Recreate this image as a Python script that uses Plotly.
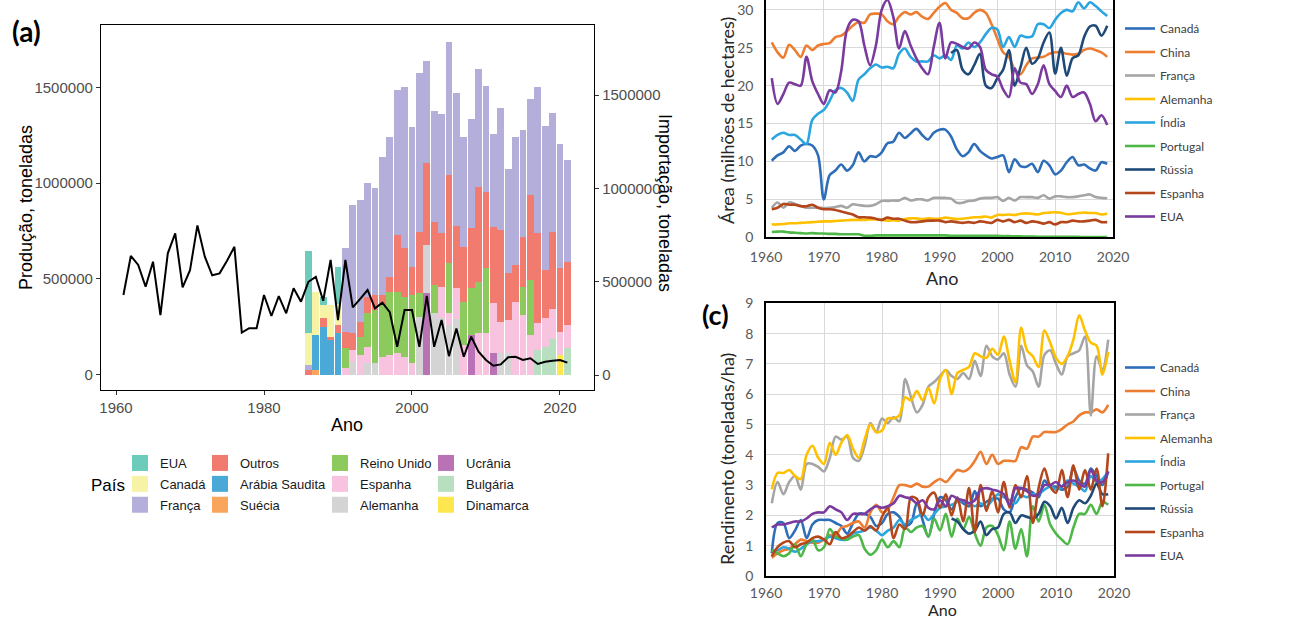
import plotly.graph_objects as go

W, H = 1301, 621

# ---------------- Panel (a) data ----------------
bar_years = list(range(1986, 2022))
bar_countries = ["EUA", "Canadá", "França", "Outros", "Arábia Saudita", "Suécia",
                 "Reino Unido", "Espanha", "Alemanha", "Ucrânia", "Bulgária", "Dinamarca"]
bar_colors = ["#6DCBBB", "#F6F3A6", "#B4AFDA", "#F27B70", "#4BA9D8", "#F9A65C",
              "#8DCA5E", "#F7C3DE", "#D4D4D4", "#BA72B7", "#B8DFC0", "#FDE64E"]

imp_eua = [438000, 0, 45000, 0, 200000] + [0] * 31
imp_canada = [170000, 232000, 71000, 170000, 112000] + [0] * 31
imp_franca = [27000, 0, 0, 0, 0, 447000, 688000, 652000, 607000, 571000, 741000, 750000,
              777000, 862000, 751000, 852000, 550000, 595000, 639000, 715000, 711000,
              586000, 584000, 629000, 566000, 496000, 652000, 557000, 688000, 571000,
              513000, 782000, 772000, 639000, 666000, 545000]
imp_outros = [27000, 0, 45000, 18000, 45000, 89000, 89000, 81000, 90000, 81000, 54000,
              81000, 304000, 259000, 151000, 330000, 438000, 339000, 286000, 473000,
              334000, 294000, 322000, 509000, 411000, 411000, 491000, 250000, 196000,
              268000, 455000, 482000, 258000, 411000, 339000, 339000]
imp_arabia = [0, 187000, 259000, 187000, 223000] + [0] * 31
imp_suecia = [0, 27000, 0, 0, 0] + [0] * 31
imp_reino_unido = [0, 0, 0, 0, 0, 107000, 0, 98000, 178000, 285000, 277000, 339000,
                   330000, 322000, 366000, 125000, 0, 152000, 0, 268000, 0, 233000,
                   250000, 277000, 348000, 0, 0, 0, 0, 152000, 295000, 0, 0, 0, 0, 0]
imp_espanha = [0, 0, 0, 0, 0, 36000, 63000, 107000, 89000, 0, 98000, 107000, 116000,
               98000, 63000, 0, 0, 0, 169000, 60000, 164000, 160000, 0, 223000, 223000,
               268000, 170000, 179000, 393000, 321000, 214000, 143000, 152000, 160000,
               125000, 125000]
imp_alemanha = [0, 0, 0, 0, 0, 0, 71000, 0, 63000, 63000, 0, 0, 0, 0, 0, 313000, 258000,
                330000, 304000, 270000, 300000, 0, 0, 0, 0, 0, 116000, 116000, 0, 0, 0,
                0, 0, 0, 0, 0]
imp_ucrania = [0] * 16 + [438000, 0, 0, 0, 0, 0, 214000, 0, 0, 116000] + [0] * 10
imp_bulgaria = [0] * 31 + [134000, 152000, 195000, 0, 143000]
imp_dinamarca = [0] * 34 + [107000, 0]

imports = [imp_eua, imp_canada, imp_franca, imp_outros, imp_arabia, imp_suecia,
           imp_reino_unido, imp_espanha, imp_alemanha, imp_ucrania, imp_bulgaria,
           imp_dinamarca]

prod_years = list(range(1961, 2022))
production = [415000, 619000, 572000, 458000, 589000, 310000, 633000, 737000, 455000,
              545000, 779000, 615000, 518000, 528000, 594000, 667000, 218000, 241000,
              241000, 415000, 305000, 409000, 319000, 450000, 380000, 484000, 510000,
              385000, 598000, 284000, 598000, 350000, 395000, 441000, 345000, 375000,
              325000, 144000, 336000, 336000, 144000, 410000, 144000, 284000, 95000,
              240000, 92000, 197000, 118000, 75000, 45000, 52000, 89000, 92000, 75000,
              84000, 54000, 66000, 71000, 75000, 61000]

# ---------------- Panels (b) and (c) data ----------------
years = list(range(1961, 2020))
rus_years = list(range(1992, 2020))
series_names = ["Canadá", "China", "França", "Alemanha", "Índia", "Portugal",
                "Rússia", "Espanha", "EUA"]
series_colors = ["#2E6DB8", "#ED7D31", "#A5A5A5", "#FFC000", "#2AA5E0", "#4DB848",
                 "#1F4A78", "#B4461C", "#7A3A9E"]

area_canada = [10.1, 10.8, 11.2, 12.0, 11.4, 12.1, 12.3, 12.1, 10.8, 5.0,
               8.2, 8.8, 9.6, 8.8, 9.5, 11.2, 10.0, 10.7, 10.6, 11.2,
               12.4, 12.6, 13.8, 13.1, 13.7, 14.3, 13.5, 12.9, 13.8, 14.2,
               14.2, 13.3, 11.6, 10.7, 11.2, 12.3, 11.4, 10.8, 10.4, 10.6,
               10.8, 8.6, 10.3, 9.4, 9.3, 9.7, 8.6, 10.1, 9.5, 8.3,
               8.8, 9.9, 10.6, 9.5, 9.6, 9.1, 8.8, 9.9, 9.7]
area_china = [25.7, 24.4, 23.7, 25.4, 24.7, 23.8, 25.3, 24.7, 25.3, 25.5,
              25.6, 26.4, 26.6, 27.2, 27.9, 28.4, 28.3, 29.4, 29.5, 29.4,
              28.5, 28.1, 29.1, 29.7, 29.4, 29.7, 29.1, 28.8, 29.6, 30.4,
              30.9, 30.0, 29.6, 28.9, 28.9, 29.6, 30.0, 29.6, 28.1, 26.2,
              24.4, 23.8, 22.1, 21.5, 22.7, 23.6, 23.7, 23.8, 24.2, 24.4,
              24.4, 24.2, 24.1, 24.2, 24.7, 24.9, 24.7, 24.4, 23.8]
area_franca = [3.9, 4.6, 3.9, 4.6, 4.4, 4.15, 3.9, 3.9, 3.9, 3.85,
               3.9, 4.0, 4.15, 3.9, 4.35, 4.25, 4.15, 4.15, 4.35, 4.8,
               4.8, 4.85, 4.85, 5.2, 4.85, 5.0, 5.0, 4.85, 5.2, 5.2,
               5.2, 5.1, 4.55, 4.55, 4.8, 4.85, 5.1, 5.2, 5.2, 5.3,
               4.8, 5.2, 4.85, 5.3, 5.3, 5.3, 5.2, 5.55, 5.1, 5.4,
               5.4, 5.3, 5.3, 5.4, 5.55, 5.65, 5.3, 5.2, 5.15]
area_alemanha = [1.7, 1.7, 1.75, 1.85, 1.85, 1.9, 1.95, 2.0, 2.05, 2.1,
                 2.1, 2.15, 2.2, 2.25, 2.3, 2.3, 2.3, 2.35, 2.35, 2.3,
                 2.2, 2.25, 2.2, 2.4, 2.5, 2.5, 2.4, 2.5, 2.45, 2.45,
                 2.6, 2.5, 2.4, 2.45, 2.55, 2.65, 2.65, 2.75, 2.6, 2.95,
                 2.95, 3.0, 2.95, 3.1, 3.15, 3.1, 3.0, 3.2, 3.25, 3.3,
                 3.25, 3.05, 3.1, 3.2, 3.25, 3.2, 3.2, 3.0, 3.1]
area_india = [12.9, 13.5, 13.8, 13.5, 13.5, 12.9, 12.3, 15.5, 16.3, 16.8,
              18.0, 19.4, 19.7, 19.1, 18.0, 20.8, 21.5, 22.3, 22.8, 22.4,
              22.5, 22.3, 24.2, 24.9, 23.8, 23.2, 23.2, 23.2, 24.0, 23.6,
              24.0, 23.4, 25.3, 24.9, 25.7, 25.1, 25.7, 26.8, 27.6, 27.4,
              25.1, 26.4, 25.1, 26.6, 26.4, 26.5, 28.1, 28.1, 27.6, 28.7,
              29.6, 30.0, 29.8, 31.0, 30.2, 31.0, 30.5, 29.8, 29.2]
area_portugal = [0.7, 0.75, 0.75, 0.65, 0.6, 0.55, 0.5, 0.55, 0.5, 0.5,
                 0.45, 0.45, 0.4, 0.4, 0.4, 0.4, 0.2, 0.2, 0.25, 0.25,
                 0.25, 0.25, 0.25, 0.25, 0.25, 0.25, 0.25, 0.25, 0.25, 0.25,
                 0.25, 0.2, 0.2, 0.2, 0.2, 0.2, 0.2, 0.2, 0.2, 0.2,
                 0.15, 0.15, 0.12, 0.12, 0.1, 0.1, 0.08, 0.08, 0.07, 0.06,
                 0.05, 0.05, 0.05, 0.05, 0.04, 0.04, 0.04, 0.03, 0.03]
area_russia = [24.3, 24.7, 22.1, 21.5, 22.7, 24.2, 20.0, 19.7, 21.0, 22.1,
               24.7, 20.0, 22.4, 25.0, 22.9, 23.6, 25.7, 27.0, 21.6, 25.0,
               21.3, 23.6, 24.0, 26.4, 27.8, 27.9, 26.6, 27.9]
area_espanha = [3.7, 3.9, 4.4, 4.3, 4.3, 4.1, 4.1, 4.3, 3.9, 3.7,
                3.7, 3.6, 3.4, 3.2, 3.0, 2.65, 2.65, 2.6, 2.45, 2.3,
                2.6, 2.45, 2.45, 2.2, 2.0, 2.0, 2.1, 2.2, 2.2, 2.2,
                2.0, 2.1, 2.0, 1.9, 2.0, 1.9, 2.1, 2.0, 1.9, 2.3,
                2.1, 2.3, 2.0, 2.2, 1.9, 2.1, 2.0, 1.8, 2.0, 1.7,
                2.0, 2.0, 2.2, 2.1, 2.1, 2.2, 2.3, 2.0, 2.0]
area_eua = [21.0, 17.6, 18.9, 20.4, 20.2, 20.0, 23.8, 20.6, 18.9, 17.6,
            19.4, 19.1, 21.9, 27.4, 28.7, 28.5, 25.3, 22.7, 25.3, 30.0,
            31.3, 29.1, 24.9, 27.2, 25.3, 23.6, 22.3, 21.5, 25.1, 28.3,
            23.6, 25.7, 25.5, 25.1, 24.9, 25.7, 25.1, 22.1, 21.5, 21.2,
            19.5, 18.5, 22.3, 20.4, 20.2, 18.9, 20.2, 22.7, 20.2, 19.3,
            18.5, 20.0, 18.5, 18.9, 19.1, 17.6, 15.3, 16.1, 14.8]

yield_canada = [0.75, 1.75, 1.75, 1.25, 1.5, 1.85, 1.25, 1.7, 1.85, 1.85,
                1.85, 1.75, 1.65, 1.4, 1.75, 2.05, 2.05, 1.95, 1.65, 1.75,
                2.05, 2.1, 1.95, 1.65, 1.75, 2.4, 1.85, 1.3, 2.05, 2.6,
                2.5, 2.2, 2.5, 2.4, 2.3, 2.8, 2.3, 2.45, 2.55, 2.55,
                2.2, 2.1, 2.6, 2.9, 2.85, 2.75, 2.6, 3.15, 2.95, 2.95,
                2.85, 2.95, 3.55, 3.15, 3.05, 3.55, 3.3, 3.0, 3.45]
yield_china = [0.6, 0.75, 0.85, 0.9, 1.05, 1.2, 1.15, 1.1, 1.1, 1.2,
               1.35, 1.35, 1.6, 1.65, 1.75, 1.8, 1.6, 2.1, 2.35, 2.1,
               2.2, 2.6, 3.0, 3.0, 2.95, 3.05, 2.95, 2.95, 3.1, 3.2,
               3.1, 3.3, 3.5, 3.45, 3.55, 3.8, 4.1, 3.7, 4.0, 3.7,
               3.8, 3.8, 3.8, 4.25, 4.2, 4.6, 4.6, 4.75, 4.75, 4.75,
               4.85, 5.0, 5.1, 5.3, 5.4, 5.4, 5.5, 5.4, 5.65]
yield_franca = [2.4, 3.1, 2.7, 3.1, 3.3, 2.85, 3.7, 3.7, 3.6, 3.45,
                3.9, 4.6, 4.5, 4.6, 3.9, 3.8, 4.3, 5.05, 4.75, 5.2,
                5.05, 5.25, 5.1, 6.5, 5.9, 5.4, 5.65, 6.25, 6.4, 6.6,
                6.8, 6.6, 6.5, 6.7, 6.5, 7.1, 6.6, 7.6, 7.25, 7.15,
                7.35, 6.65, 6.25, 7.6, 6.95, 6.75, 6.25, 7.3, 7.45, 7.0,
                6.65, 7.25, 7.35, 7.45, 7.9, 5.3, 7.25, 6.8, 7.8]
yield_alemanha = [2.86, 3.4, 3.4, 3.5, 3.3, 3.2, 4.0, 4.3, 3.9, 3.7,
                  4.4, 4.0, 4.4, 4.65, 4.2, 3.9, 4.5, 5.0, 4.75, 4.8,
                  5.2, 5.2, 5.3, 5.9, 5.8, 6.1, 5.8, 6.2, 5.7, 6.5,
                  6.8, 6.0, 6.7, 6.8, 6.9, 7.35, 7.25, 7.2, 7.5, 7.3,
                  7.9, 7.1, 6.4, 8.2, 7.45, 7.25, 6.9, 8.1, 7.7, 7.2,
                  7.0, 7.25, 7.8, 8.6, 8.1, 7.7, 7.6, 6.65, 7.4]
yield_india = [0.85, 0.85, 0.95, 0.9, 0.8, 0.9, 1.05, 1.15, 1.15, 1.2,
               1.3, 1.25, 1.2, 1.2, 1.4, 1.45, 1.5, 1.6, 1.5, 1.35,
               1.5, 1.6, 1.85, 1.7, 1.85, 1.95, 2.05, 1.85, 2.05, 2.25,
               2.3, 2.35, 2.45, 2.5, 2.4, 2.3, 2.4, 2.3, 2.5, 2.7,
               2.6, 2.5, 2.4, 2.65, 2.6, 2.7, 2.7, 2.85, 2.95, 2.85,
               2.95, 3.15, 3.05, 2.95, 2.8, 3.3, 3.1, 3.2, 3.45]
yield_portugal = [0.85, 0.75, 0.65, 0.75, 1.05, 0.65, 1.05, 1.2, 0.85, 0.95,
                  1.55, 1.3, 1.25, 1.2, 1.3, 1.35, 0.9, 0.7, 0.85, 1.2,
                  0.95, 1.15, 0.95, 1.6, 1.45, 1.6, 1.65, 1.3, 1.9, 1.5,
                  2.05, 1.3, 1.9, 1.55, 1.95, 1.4, 1.0, 1.6, 1.65, 1.35,
                  0.85, 1.8, 0.9, 1.55, 0.65, 2.3, 1.8, 2.35, 1.7, 1.4,
                  1.2, 1.05, 1.6, 2.05, 2.05, 2.35, 2.05, 2.45, 2.35]
yield_russia = [1.9, 1.8, 1.55, 1.4, 1.5, 1.8, 1.35, 1.55, 1.6, 2.05,
                2.1, 1.75, 2.0, 1.95, 1.9, 2.05, 2.45, 2.3, 1.9, 2.25,
                1.75, 2.25, 2.5, 2.4, 2.65, 3.05, 2.7, 2.7]
yield_espanha = [0.65, 0.95, 1.1, 1.15, 0.95, 1.05, 1.1, 1.25, 1.3, 1.2,
                 1.05, 1.45, 1.25, 1.3, 1.45, 1.6, 1.5, 1.65, 1.5, 1.95,
                 2.25, 1.25, 1.7, 1.55, 2.6, 2.55, 2.0, 2.6, 2.75, 2.25,
                 2.7, 2.0, 2.6, 1.8, 2.9, 1.45, 3.0, 2.15, 2.8, 2.1,
                 3.1, 2.25, 3.0, 2.6, 3.3, 1.75, 2.9, 3.55, 2.95, 2.75,
                 3.5, 2.6, 3.65, 2.85, 3.5, 2.85, 3.55, 2.3, 4.05]
yield_eua = [1.6, 1.7, 1.7, 1.75, 1.8, 1.8, 1.9, 2.05, 2.1, 2.1,
             2.3, 2.2, 2.1, 1.85, 2.05, 2.05, 2.05, 2.2, 2.3, 2.25,
             2.3, 2.4, 2.65, 2.6, 2.55, 2.4, 2.5, 2.25, 2.2, 2.5,
             2.3, 2.65, 2.55, 2.5, 2.4, 2.5, 2.85, 2.9, 2.85, 2.8,
             2.7, 2.35, 2.9, 2.9, 2.8, 2.65, 2.7, 3.0, 3.0, 3.1,
             2.95, 3.1, 3.15, 3.05, 2.95, 3.5, 3.15, 3.1, 3.45]

area_series = [area_canada, area_china, area_franca, area_alemanha, area_india,
               area_portugal, area_russia, area_espanha, area_eua]
yield_series = [yield_canada, yield_china, yield_franca, yield_alemanha, yield_india,
                yield_portugal, yield_russia, yield_espanha, yield_eua]


def px(xp):
    return xp / W


def py(yp):
    return 1 - yp / H


fig = go.Figure()

# ---- Panel (a): stacked import bars (bottom-most category first) ----
for i in reversed(range(len(bar_countries))):
    fig.add_trace(go.Bar(
        x=bar_years, y=imports[i], name=bar_countries[i],
        marker=dict(color=bar_colors[i], line=dict(width=0)),
        width=0.9, xaxis="x", yaxis="y", showlegend=False, hoverinfo="skip"))

# legend keys for panel (a) (square swatches, 4 columns of 3)
legend_ids = ["legend", "legend2", "legend3", "legend4"]
for i, (name, col) in enumerate(zip(bar_countries, bar_colors)):
    fig.add_trace(go.Scatter(
        x=[None], y=[None], mode="markers", name=name,
        marker=dict(symbol="square", size=16, color=col, line=dict(width=0)),
        xaxis="x", yaxis="y", legend=legend_ids[i // 3], legendgroup="a_" + name,
        hoverinfo="skip"))

# production line (drawn on overlaying axis so it is on top)
fig.add_trace(go.Scatter(
    x=prod_years, y=production, mode="lines", line=dict(color="black", width=2),
    xaxis="x", yaxis="y2", showlegend=False, hoverinfo="skip"))

# ---- Panel (b) and (c) lines ----
for name, col, ser in zip(series_names, series_colors, area_series):
    xs = rus_years if name == "Rússia" else years
    fig.add_trace(go.Scatter(
        x=xs, y=ser, mode="lines", name=name,
        line=dict(color=col, width=2.6, shape="spline", smoothing=0.9),
        xaxis="x2", yaxis="y3", legend="legend5", legendgroup="b_" + name,
        hoverinfo="skip"))
for name, col, ser in zip(series_names, series_colors, yield_series):
    xs = rus_years if name == "Rússia" else years
    fig.add_trace(go.Scatter(
        x=xs, y=ser, mode="lines", name=name,
        line=dict(color=col, width=2.6, shape="spline", smoothing=0.9),
        xaxis="x3", yaxis="y4", legend="legend6", legendgroup="c_" + name,
        hoverinfo="skip"))

A_FONT = "Liberation Sans, Arial, sans-serif"
E_FONT = "Liberation Sans Narrow, Lato, sans-serif"
T_FONT = "Lato, Open Sans, sans-serif"

axis_a = dict(showgrid=False, zeroline=False, showline=True, linecolor="black",
              linewidth=1.3, ticks="outside", ticklen=4, tickwidth=1.1, automargin=False,
              tickcolor="#333333", tickfont=dict(family=A_FONT, size=15, color="#4D4D4D"))

xa = dict(axis_a, domain=[px(101), px(594)], range=[1957.97, 2024.6],
          tickvals=[1960, 1980, 2000, 2020], mirror=True, anchor="y")
ya = dict(axis_a, domain=[py(390), py(25)], range=[-80000, 1875000], side="right",
          tickvals=[0, 500000, 1000000, 1500000], tickformat="d", anchor="x")
ya2 = dict(axis_a, overlaying="y", range=[-82000, 1827000], side="left",
           tickvals=[0, 500000, 1000000, 1500000], tickformat="d", anchor="x")

axis_e = dict(showgrid=True, gridcolor="#D9D9D9", gridwidth=1.4, zeroline=False,
              showline=True, linecolor="black", linewidth=1.6, ticks="", automargin=False,
              ticklabeloverflow="allow",
              tickfont=dict(family=E_FONT, size=14, color="#595959"))

xb = dict(axis_e, domain=[px(766), px(1113)], range=[1960, 2020], dtick=10,
          tick0=1960, anchor="y3", ticklabelstandoff=6)
yb = dict(axis_e, domain=[py(237.3), 1.0], range=[0, 31.3], tickvals=list(range(0, 31, 5)),
          anchor="x2", mirror=True, ticklabelstandoff=8)
xc = dict(axis_e, domain=[px(766), px(1114)], range=[1960, 2020], dtick=10,
          tick0=1960, anchor="y4", mirror=True, ticklabelstandoff=3)
yc = dict(axis_e, domain=[py(576), py(303.3)], range=[0, 9], dtick=1,
          anchor="x3", mirror=True, ticklabelstandoff=8)

leg_a_font = dict(family=A_FONT, size=13, color="#1A1A1A")
leg_common = dict(orientation="v", xanchor="left", yanchor="top",
                  bgcolor="rgba(0,0,0,0)", borderwidth=0, traceorder="grouped",
                  tracegroupgap=1, font=leg_a_font, itemclick=False, itemdoubleclick=False)
leg_e = dict(orientation="v", xanchor="left", yanchor="top", bgcolor="rgba(0,0,0,0)",
             borderwidth=0, traceorder="grouped", tracegroupgap=4.5,
             font=dict(family=E_FONT, size=12, color="#404040"),
             itemclick=False, itemdoubleclick=False)

annotations = [
    dict(text="<b>(a)</b>", x=px(26), y=py(31), font=dict(family=T_FONT, size=28, color="black")),
    dict(text="<b>(c)</b>", x=px(715), y=py(314), font=dict(family=T_FONT, size=27, color="black")),
    dict(text="Produção, toneladas", x=px(26), y=py(208), textangle=-90,
         font=dict(family=A_FONT, size=18, color="black")),
    dict(text="Importação, toneladas", x=px(665), y=py(203), textangle=90,
         font=dict(family=A_FONT, size=18, color="black")),
    dict(text="Ano", x=px(347), y=py(425), font=dict(family=A_FONT, size=18, color="black")),
    dict(text="País", x=px(108), y=py(485), font=dict(family=A_FONT, size=17, color="black")),
    dict(text="Área (milhões de hectares)", x=px(727), y=py(120), textangle=-90,
         font=dict(family=T_FONT, size=18, color="#262626")),
    dict(text="Ano", x=px(942), y=py(278), font=dict(family=E_FONT, size=18, color="#262626")),
    dict(text="Rendimento (toneladas/ha)", x=px(727), y=py(459), textangle=-90,
         font=dict(family=T_FONT, size=18, color="#262626")),
    dict(text="Ano", x=px(942), y=py(609), font=dict(family=E_FONT, size=16, color="#262626")),
]
for a in annotations:
    a.update(xref="paper", yref="paper", showarrow=False, xanchor="center", yanchor="middle")

fig.update_layout(
    width=W, height=H, margin=dict(l=0, r=0, t=0, b=0, autoexpand=False),
    paper_bgcolor="white", plot_bgcolor="white",
    barmode="stack", bargap=0.1, showlegend=True,
    xaxis=xa, yaxis=ya, yaxis2=ya2,
    xaxis2=xb, yaxis3=yb, xaxis3=xc, yaxis4=yc,
    legend=dict(leg_common, x=px(120), y=py(448)),
    legend2=dict(leg_common, x=px(200), y=py(448)),
    legend3=dict(leg_common, x=px(320), y=py(448)),
    legend4=dict(leg_common, x=px(426), y=py(448)),
    legend5=dict(leg_e, x=px(1120), y=py(14)),
    legend6=dict(leg_e, x=px(1120), y=py(353)),
    annotations=annotations,
)

fig.write_html("out.html", config={"displayModeBar": False})
